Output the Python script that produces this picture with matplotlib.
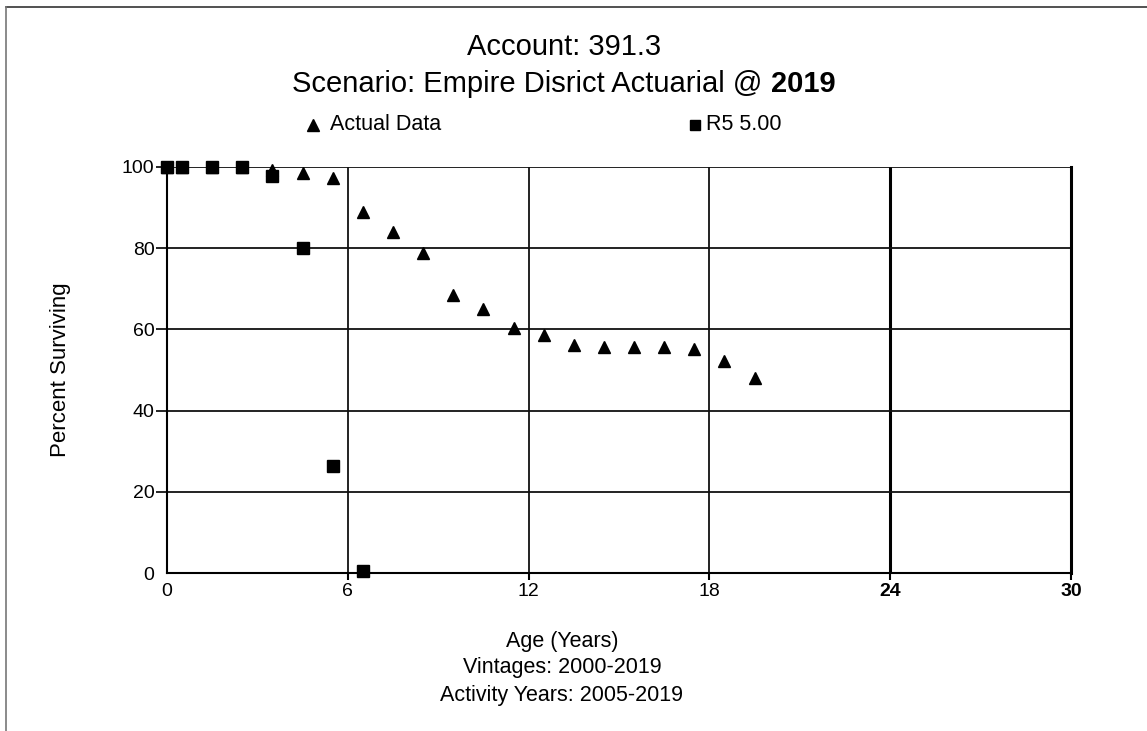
import matplotlib
matplotlib.use("Agg")
import matplotlib.pyplot as plt
from matplotlib.lines import Line2D

plt.rcParams['font.family'] = ['Liberation Sans', 'DejaVu Sans']

# Data
actual_age = [0, 0.5, 1.5, 2.5, 3.5, 4.5, 5.5, 6.5, 7.5, 8.5, 9.5, 10.5, 11.5,
              12.5, 13.5, 14.5, 15.5, 16.5, 17.5, 18.5, 19.5]
actual_pct = [100, 100, 100, 100, 99.3, 98.5, 97.3, 88.9, 84.0, 78.8, 68.5, 65.0,
              60.3, 58.6, 56.2, 55.7, 55.7, 55.7, 55.2, 52.2, 48.0]
curve_age = [0, 0.5, 1.5, 2.5, 3.5, 4.5, 5.5, 6.5]
curve_pct = [100, 100, 100, 100, 97.8, 80.0, 26.4, 0.5]
x_ticks = [0, 6, 12, 18, 24, 30]
x_tick_labels = ['0', '6', '12', '18', '24', '30']
y_ticks = [0, 20, 40, 60, 80, 100]

W, H = 1147, 731
fig = plt.figure(figsize=(W / 100, H / 100), dpi=100)
ax = fig.add_axes([167 / W, 1 - 573 / H, (1071 - 167) / W, (573 - 167) / H])

ax.set_xlim(0, 30)
ax.set_ylim(0, 100)

# grid lines
for xv in [6, 12, 18]:
    ax.axvline(xv, color='#111111', lw=1.3, zorder=1)
ax.axvline(24, color='black', lw=2.2, zorder=1)
for yv in [20, 40, 60, 80, 100]:
    ax.axhline(yv, color='#111111', lw=1.3, zorder=1)

ax.plot(actual_age, actual_pct, linestyle='none', marker='^', color='black',
        markersize=9.2, zorder=3, clip_on=False)
ax.plot(curve_age, curve_pct, linestyle='none', marker='s', color='black',
        markersize=9.2, zorder=4, clip_on=False)

ax.spines['top'].set_visible(False)
ax.spines['left'].set_linewidth(1.5)
ax.spines['bottom'].set_linewidth(1.5)
ax.spines['right'].set_linewidth(2.2)

ax.set_xticks(x_ticks)
ax.set_xticklabels(x_tick_labels, fontsize=14)
for lab in ax.get_xticklabels():
    if lab.get_text() in ('24', '30'):
        lab.set_fontweight('bold')
ax.set_yticks(y_ticks)
ax.set_yticklabels([str(v) for v in y_ticks], fontsize=14)
ax.tick_params(axis='x', direction='out', length=5, width=1.5, color='black', pad=2)
ax.tick_params(axis='y', direction='out', length=8, width=1.2, color='black', pad=1)
# no tick marks at the origin
ax.xaxis.get_major_ticks()[0].tick1line.set_visible(False)
ax.yaxis.get_major_ticks()[0].tick1line.set_visible(False)

ax.set_ylabel('Percent Surviving', fontsize=16, labelpad=0)
ax.yaxis.set_label_coords((71 - 167) / (1071 - 167), 0.5)

cx = 562 / W
fig.text(cx, 1 - 641 / H, 'Age (Years)', ha='center', va='center', fontsize=15.5)
fig.text(cx, 1 - 667 / H, 'Vintages: 2000-2019', ha='center', va='center', fontsize=15.5)
fig.text(cx, 1 - 695 / H, 'Activity Years: 2005-2019', ha='center', va='center', fontsize=15.5)

# Title
fig.text(564 / W, 1 - 47 / H, 'Account: 391.3', ha='center', va='center', fontsize=21)
t1 = fig.text(0, 1 - 84 / H, 'Scenario: Empire Disrict Actuarial @ ', ha='left',
              va='center', fontsize=21)
t2 = fig.text(0, 1 - 84 / H, '2019', ha='left', va='center', fontsize=21,
              fontweight='bold')
fig.canvas.draw()
r = fig.canvas.get_renderer()
w1 = t1.get_window_extent(r).width
w2 = t2.get_window_extent(r).width
start = 564 - (w1 + w2) / 2
t1.set_x(start / W)
t2.set_x((start + w1) / W)

# Legend
ly = 1 - 125 / H
fig.add_artist(Line2D([313 / W], [ly], marker='^', color='black', markersize=8,
                      linestyle='none', transform=fig.transFigure))
fig.text(330 / W, ly, 'Actual Data', ha='left', va='center', fontsize=15.5)
fig.add_artist(Line2D([695 / W], [ly], marker='s', color='black', markersize=7.5,
                      linestyle='none', transform=fig.transFigure))
fig.text(706 / W, ly, 'R5 5.00', ha='left', va='center', fontsize=15.5)

# figure border (top and left)
fig.add_artist(Line2D([6 / W, 1], [1 - 7 / H, 1 - 7 / H], color='#333333', lw=1.2,
                      transform=fig.transFigure))
fig.add_artist(Line2D([6 / W, 6 / W], [0, 1 - 7 / H], color='#777777', lw=1.2,
                      transform=fig.transFigure))

fig.savefig('out.png', dpi=100)
